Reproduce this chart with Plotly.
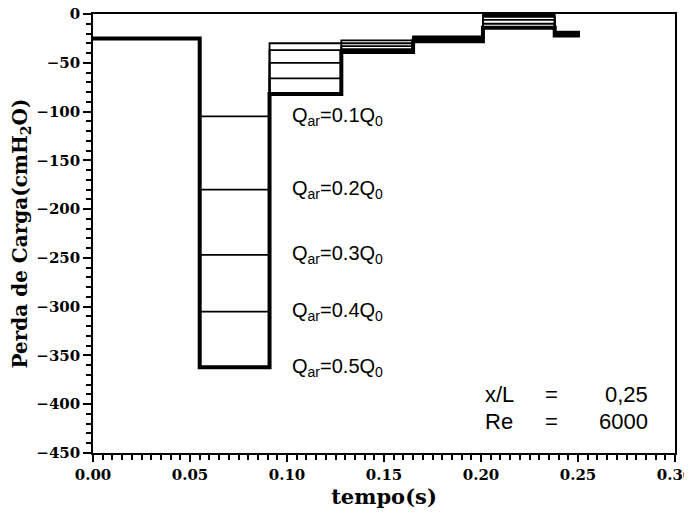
import plotly.graph_objects as go

# time breakpoints (s)
t_steps = [0.0, 0.055, 0.091, 0.128, 0.165, 0.201, 0.238, 0.251]
labels = ["0.1", "0.2", "0.3", "0.4", "0.5"]
base = -25
lvl1 = [-105, -180, -247, -305, -362]
lvl2 = [-30, -37, -50, -66, -82]
lvl3 = [-27, -30, -33, -36, -39]
lvl4 = [-23, -24, -25, -26, -28]
lvl5 = [-1, -3, -6, -10, -14]
lvl6 = [-18, -19, -20, -21, -22]
widths = [1.8, 1.8, 1.8, 1.8, 4]

x_ticks = [0, 0.05, 0.10, 0.15, 0.20, 0.25, 0.30]
y_ticks = [0, -50, -100, -150, -200, -250, -300, -350, -400, -450]

fig = go.Figure()
for i, q in enumerate(labels):
    ys = [base, lvl1[i], lvl2[i], lvl3[i], lvl4[i], lvl5[i], lvl6[i], lvl6[i]]
    fig.add_trace(go.Scatter(x=t_steps, y=ys, mode="lines", line_shape="hv",
                             line=dict(color="black", width=widths[i]),
                             showlegend=False, name=q))
    fig.add_annotation(x=0.1015, y=lvl1[i], xref="x", yref="y",
                       text=f"Q<sub>ar</sub>=0.{i+1}Q<sub>0</sub>",
                       showarrow=False, xanchor="left", yanchor="middle",
                       font=dict(family="Liberation Sans", size=20, color="black"))

info_font = dict(family="Liberation Sans", size=22, color="black")
for txt, xx, yy, anc in [("x/L", 0.201, -390, "left"), ("=", 0.232, -390, "left"), ("0,25", 0.287, -390, "right"),
                         ("Re", 0.201, -418, "left"), ("=", 0.232, -418, "left"), ("6000", 0.287, -418, "right")]:
    fig.add_annotation(x=xx, y=yy, xref="x", yref="y", text=txt, showarrow=False,
                       xanchor=anc, yanchor="middle", font=info_font)

tick_font = dict(family="DejaVu Serif", size=15, color="black")
fig.update_xaxes(range=[0, 0.30], tickvals=x_ticks, ticktext=[f"<b>{v:.2f}</b>" for v in x_ticks],
                 ticks="outside", ticklen=7, tickwidth=1.5, automargin=False, ticklabeloverflow="allow",
                 minor=dict(dtick=0.005, ticks="outside", ticklen=5, tickwidth=1.5, tickcolor="black"),
                 showline=True, linecolor="black", linewidth=1.5, mirror=True,
                 showgrid=False, zeroline=False, tickfont=tick_font, tickcolor="black",
                 title=dict(text="<b>tempo(s)</b>", font=dict(family="DejaVu Serif", size=21, color="black"), standoff=0))
fig.update_yaxes(range=[-450, 0], tickvals=y_ticks, ticktext=[f"<b>{'−' if v < 0 else ''}{abs(v)}</b>" for v in y_ticks],
                 ticks="outside", ticklen=8, tickwidth=1.5, automargin=False, ticklabeloverflow="allow",
                 minor=dict(dtick=10, ticks="outside", ticklen=5, tickwidth=1.5, tickcolor="black"),
                 showline=True, linecolor="black", linewidth=1.5, mirror=True,
                 showgrid=False, zeroline=False, tickfont=tick_font, tickcolor="black",
                 title=dict(text="<b>Perda de Carga(cmH<sub>2</sub>O)</b>", font=dict(family="DejaVu Serif", size=20, color="black"), standoff=4))
fig.update_layout(width=692, height=514, plot_bgcolor="white", paper_bgcolor="white",
                  margin=dict(l=85, r=25, t=6, b=69))
fig.write_html("out.html")
